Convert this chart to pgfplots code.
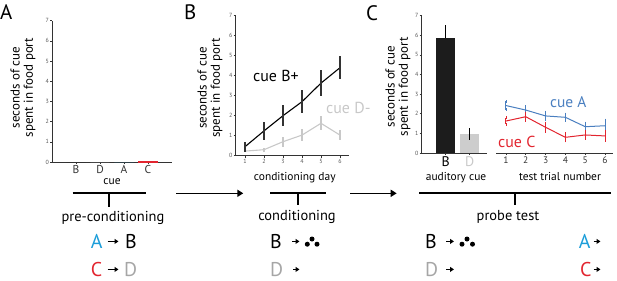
\documentclass[border=0pt]{standalone}
\usepackage{fontspec}
\setmainfont{PT Sans}
\usepackage{pgfplots}
\pgfplotsset{compat=1.18}
\usetikzlibrary{arrows.meta}
\definecolor{axgray}{HTML}{333333}
\definecolor{tickgray}{HTML}{555555}
\definecolor{lightD}{HTML}{C8C8C8}
\definecolor{barD}{HTML}{CDCDCD}
\definecolor{lineA}{HTML}{4A7FC0}
\definecolor{redC}{HTML}{E2252F}
\definecolor{cyanA}{HTML}{1B9DD9}
\definecolor{grayD}{HTML}{A6A6A6}
\definecolor{barB}{HTML}{1C1C1C}
\pgfplotsset{
  common/.style={scale only axis, anchor=south west, ymin=0, ymax=7,
    axis line style={draw=axgray, line width=0.8bp, -},
    tick style={draw=axgray, line width=0.6bp},
    major tick length=2bp, tick align=outside,
    /pgf/number format/assume math mode=true,
    ytick={0,...,7},
    yticklabel style={font=\fontsize{6}{6}\selectfont, text=tickgray, inner sep=1bp},
    ylabel={seconds of cue\\spent in food port},
    ylabel style={font=\fontsize{13}{13.5}\selectfont, align=center, anchor=center},
    xlabel style={font=\fontsize{11.5}{11.5}\selectfont, anchor=base},
    clip=false,
  },
}
\begin{document}
\begin{tikzpicture}
\path[use as bounding box] (0bp,0bp) rectangle (617bp,-281bp);
% ---------- Panel A ----------
\begin{axis}[common, at={(52bp,-162bp)}, width=120bp, height=141.3bp,
  xmin=0, xmax=5, axis x line*=bottom, axis y line*=left,
  xtick={1,2,3,4}, xticklabels={B,D,A,C},
  xticklabel style={font=\fontsize{11.5}{11.5}\selectfont, text=axgray, inner sep=1.5bp},
  xlabel={cue}, xlabel style={at={(axis description cs:0.5,-0.156)}},
  ylabel style={at={(axis description cs:-0.242,0.527)}}]
\addplot[ybar, bar shift=0pt, bar width=0.8, fill=barB, draw=none] coordinates {(1,0)};
\addplot[ybar, bar shift=0pt, bar width=0.8, fill=barD, draw=none] coordinates {(2,0)};
\addplot[ybar, bar shift=0pt, bar width=0.8, fill=cyanA, draw=none] coordinates {(3,0)};
\addplot[ybar, bar shift=0pt, bar width=0.8, fill=redC, draw=redC] coordinates {(4,0.03)};
\end{axis}
% ---------- Panel B ----------
\begin{axis}[common, at={(235.5bp,-155.7bp)}, width=114bp, height=140bp,
  xmin=0.5, xmax=6.5, axis x line*=bottom, axis y line*=left,
  xtick={1,...,6},
  xticklabel style={font=\fontsize{6}{6}\selectfont, text=tickgray, inner sep=1.5bp},
  xlabel={conditioning day}, xlabel style={at={(axis description cs:0.52,-0.174)}},
  ylabel style={at={(axis description cs:-0.224,0.484)}}]
\addplot[draw=lightD, line width=1.1bp, error bars/.cd, y dir=both, y explicit, error mark=none,
  error bar style={draw=lightD, line width=1.3bp}]
  coordinates {(1,0.23) +- (0,0.05) (2,0.30) +- (0,0.10) (3,0.70) +- (0,0.25)
               (4,1.03) +- (0,0.30) (5,1.62) +- (0,0.35) (6,1.03) +- (0,0.25)};
\addplot[draw=black, line width=1.1bp, error bars/.cd, y dir=both, y explicit, error mark=none,
  error bar style={draw=axgray, line width=1.4bp}]
  coordinates {(1,0.45) +- (0,0.25) (2,1.24) +- (0,0.46) (3,2.00) +- (0,0.53)
               (4,2.70) +- (0,0.58) (5,3.63) +- (0,0.65) (6,4.40) +- (0,0.58)};
\end{axis}
% ---------- Panel C bars ----------
\begin{axis}[common, at={(421.7bp,-153bp)}, width=64.8bp, height=137.3bp,
  xmin=0, xmax=2.7, axis x line*=bottom, axis y line*=left,
  xtick={1,2}, xticklabels={B,\textcolor{lightD}{D}},
  xticklabel style={font=\fontsize{14}{14}\selectfont, text=black, inner sep=1bp},
  xlabel={auditory cue}, xlabel style={at={(axis description cs:0.53,-0.197)}},
  ylabel style={at={(axis description cs:-0.366,0.483)}}]
\addplot[ybar, bar shift=0pt, bar width=0.8, fill=barB, draw=none,
  error bars/.cd, y dir=plus, y explicit, error mark=none,
  error bar style={draw=black, line width=1.4bp}]
  coordinates {(1,5.85) +- (0,0.67)};
\addplot[ybar, bar shift=0pt, bar width=0.8, fill=barD, draw=none,
  error bars/.cd, y dir=both, y explicit, error mark=none,
  error bar style={draw=black, line width=1.4bp}]
  coordinates {(2,0.95) +- (0,0.30)};
\end{axis}
% ---------- Panel C lines ----------
\begin{axis}[common, at={(496bp,-153bp)}, width=117bp, height=137.3bp,
  xmin=0.5, xmax=6.4, axis x line*=bottom, axis y line=none, ytick=\empty,
  xtick={1,...,6},
  xticklabel style={font=\fontsize{9.5}{9.5}\selectfont, text=axgray, inner sep=1.5bp},
  xlabel={test trial number}, xlabel style={at={(axis description cs:0.547,-0.197)}},
  ylabel={}]
\addplot[draw=lineA, line width=1bp, error bars/.cd, y dir=both, y explicit,
  error mark options={draw=lineA, mark size=1.3bp, line width=0.8bp},
  error bar style={draw=lineA, line width=0.9bp}]
  coordinates {(1,2.42) +- (0,0.21) (2,2.19) +- (0,0.17) (3,1.89) +- (0,0.21)
               (4,1.82) +- (0,0.17) (5,1.34) +- (0,0.19) (6,1.39) +- (0,0.30)};
\addplot[draw=redC, line width=1bp, error bars/.cd, y dir=both, y explicit,
  error mark options={draw=redC, mark size=1.3bp, line width=0.8bp},
  error bar style={draw=redC, line width=0.9bp}]
  coordinates {(1,1.63) +- (0,0.17) (2,1.85) +- (0,0.19) (3,1.31) +- (0,0.21)
               (4,0.80) +- (0,0.19) (5,0.92) +- (0,0.17) (6,0.87) +- (0,0.23)};
\end{axis}
% ---------- annotations ----------
\begin{scope}[x=1bp,y=-1bp]
\node[anchor=base west, inner sep=0, font=\fontsize{21}{21}\selectfont] at (0,19) {A};
\node[anchor=base west, inner sep=0, font=\fontsize{21}{21}\selectfont] at (184,19) {B};
\node[anchor=base west, inner sep=0, font=\fontsize{21}{21}\selectfont] at (366,20) {C};
\node[anchor=base west, inner sep=0, font=\fontsize{16}{16}\selectfont] at (253,81) {cue B+};
\node[anchor=base west, inner sep=0, font=\fontsize{16}{16}\selectfont, text=lightD] at (326,113) {cue D-};
\node[anchor=base west, inner sep=0, font=\fontsize{15.5}{15.5}\selectfont, text=lineA] at (550,107) {cue A};
\node[anchor=base west, inner sep=0, font=\fontsize{16}{16}\selectfont, text=redC] at (498,147) {cue C};
% brackets and arrows
\draw[line width=2bp] (72.7,192.7) -- (145.7,192.7);
\draw[line width=2bp] (109,192.7) -- (109,207);
\draw[line width=1.5bp, -{Triangle[length=6bp,width=7bp]}] (176,193.3) -- (243.3,193.3);
\draw[line width=2bp] (270,193.3) -- (326,193.3);
\draw[line width=2bp] (297.7,193.3) -- (297.7,205);
\draw[line width=1.5bp, -{Triangle[length=6bp,width=7bp]}] (350,193.3) -- (396.7,193.3);
\draw[line width=2bp] (419.3,193.3) -- (611,193.3);
\draw[line width=2bp] (514.7,193.3) -- (514.7,205);
\node[anchor=base, inner sep=0, font=\fontsize{14.5}{14.5}\selectfont] at (113,221.7) {pre-conditioning};
\node[anchor=base, inner sep=0, font=\fontsize{14.5}{14.5}\selectfont] at (297,220.7) {conditioning};
\node[anchor=base, inner sep=0, font=\fontsize{14.5}{14.5}\selectfont] at (508,220.7) {probe test};
% schematic letters
\begin{scope}[every node/.style={anchor=base west, inner sep=0, font=\fontsize{20}{20}\selectfont}]
\node[text=cyanA] at (90.7,248) {A};
\node at (125,248) {B};
\node[text=redC] at (90.7,276) {C};
\node[text=grayD] at (124,276) {D};
\node at (270,248) {B};
\node[text=grayD] at (270,276) {D};
\node at (425,248) {B};
\node[text=grayD] at (425,276) {D};
\node[text=cyanA] at (578.7,248) {A};
\node[text=redC] at (580,276) {C};
\end{scope}
\begin{scope}[line width=1.3bp, -{Triangle[length=4bp,width=5bp]}]
\draw (107.5,241.4) -- (118.5,241.4);
\draw (107.5,269.4) -- (118.5,269.4);
\draw (292,241.4) -- (299.5,241.4);
\draw (293,269.4) -- (299.5,269.4);
\draw (446,241.4) -- (454,241.4);
\draw (446,269.4) -- (454,269.4);
\draw (593.7,241.4) -- (600.5,241.4);
\draw (593.7,269.4) -- (600.5,269.4);
\end{scope}
\fill (312,239) circle (2.5) (307.3,244.2) circle (2.5) (317,244.2) circle (2.5);
\fill (467,239) circle (2.5) (462,244.2) circle (2.5) (472.5,244.2) circle (2.5);
\end{scope}
\end{tikzpicture}
\end{document}
